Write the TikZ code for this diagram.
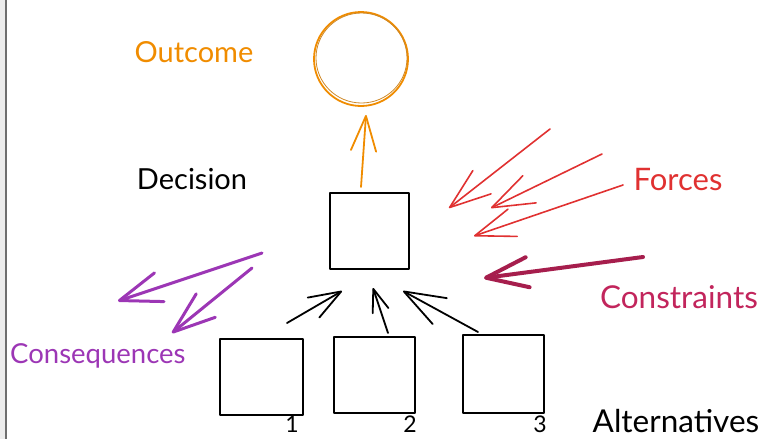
\documentclass[tikz,border=0pt]{standalone}
\usepackage{fontspec}
\setmainfont{Lato}
\usetikzlibrary{arrows.meta}
\definecolor{outcomeorange}{HTML}{F08C00}
\definecolor{forcered}{HTML}{E03131}
\definecolor{constraintpink}{HTML}{C2255C}
\definecolor{constraintdark}{HTML}{A61E4D}
\definecolor{conspurple}{HTML}{9C36B5}
\definecolor{framegrey}{HTML}{6E6E6E}
\definecolor{stripgrey}{HTML}{ECECEC}
\begin{document}
\begin{tikzpicture}[x=1pt,y=-1pt,
  lbl/.style={font=\fontsize{#1}{#1}\selectfont, inner sep=0pt},
  lbl/.default=29,
  sketchbox/.style={draw=black, line width=2pt, line join=round, inner sep=0pt},
  stroke/.style={line width=#1, line cap=round, line join=round},
  barb/.style={-{Straight Barb[length=#1, width=0.72*#1, round]}}]

\useasboundingbox (0,0) rectangle (763,439);

% frame edge on the left
\fill[stripgrey] (0,0) rectangle (5,439);
\draw[framegrey, line width=1.5pt] (6,0) -- (6,439);

% labels
\node[lbl=29, text=outcomeorange] (outcome) at (194,52) {Outcome};
\node[lbl=29, text=black] (decision) at (192,179) {Decision};
\node[lbl=31, text=forcered] (forces) at (678,180) {Forces};
\node[lbl=31.5, text=constraintpink] (constraints) at (679,297) {Constraints};
\node[lbl=27.5, text=conspurple, anchor=west] (consequences) at (10,356) {Consequences};
\node[lbl=31.5, text=black] (alternatives) at (676,421) {Alternatives};

% outcome circle
\node[draw=outcomeorange, line width=1.8pt, circle, minimum size=94pt, inner sep=0pt] (goal) at (361,59) {};
\draw[outcomeorange!70!gray, line width=0.8pt] (361.5,58) ellipse (45.5pt and 45pt);

% decision and alternatives
\node[sketchbox, minimum width=79pt, minimum height=76pt] (dec) at (369.5,231) {};
\node[sketchbox, minimum width=83pt, minimum height=76pt] (alt1) at (261.5,377) {};
\node[sketchbox, minimum width=81pt, minimum height=76pt] (alt2) at (374.5,375) {};
\node[sketchbox, minimum width=81pt, minimum height=78pt] (alt3) at (503.5,374) {};

% numbers under the alternatives
\node[lbl=23, anchor=south] (n1) at (292,433) {1};
\node[lbl=23, anchor=south] (n2) at (410,433) {2};
\node[lbl=23, anchor=south] (n3) at (540,433) {3};

% arrow end points
\coordinate (o0) at (361,187);  \coordinate (o1) at (366,115);
\coordinate (f1a) at (550,129); \coordinate (f1b) at (449,208);
\coordinate (f2a) at (602,154); \coordinate (f2b) at (491,208);
\coordinate (f3a) at (623,185); \coordinate (f3b) at (474,236);
\coordinate (c0) at (643,257);  \coordinate (c1) at (484,278);
\coordinate (q1a) at (262,253); \coordinate (q1b) at (118,301);
\coordinate (q2a) at (252,268); \coordinate (q2b) at (172,333);
\coordinate (a1) at (287,323);  \coordinate (a1t) at (342,291);
\coordinate (a2) at (388,333);  \coordinate (a2t) at (373,288);
\coordinate (a3) at (478,332);  \coordinate (a3t) at (403,291);

% outcome arrow
\draw[outcomeorange, stroke=1.8pt, barb=35pt] (o0) -- (o1);

% forces
\draw[forcered, stroke=1.6pt, barb=41pt] (f1a) -- (f1b);
\draw[forcered, stroke=1.6pt, barb=42pt] (f2a) -- (f2b);
\draw[forcered, stroke=1.6pt, barb=40pt] (f3a) -- (f3b);

% constraints
\draw[constraintdark, stroke=4pt, barb=42pt] (c0) -- (c1);

% consequences
\draw[conspurple, stroke=3pt, barb=42pt] (q1a) -- (q1b);
\draw[conspurple, stroke=3pt, barb=42pt] (q2a) -- (q2b);

% alternatives feeding the decision
\draw[black, stroke=1.8pt, barb=32pt] (a1) -- (a1t);
\draw[black, stroke=1.8pt, barb=23pt] (a2) -- (a2t);
\draw[black, stroke=1.8pt, barb=41pt] (a3) -- (a3t);

\end{tikzpicture}
\end{document}
